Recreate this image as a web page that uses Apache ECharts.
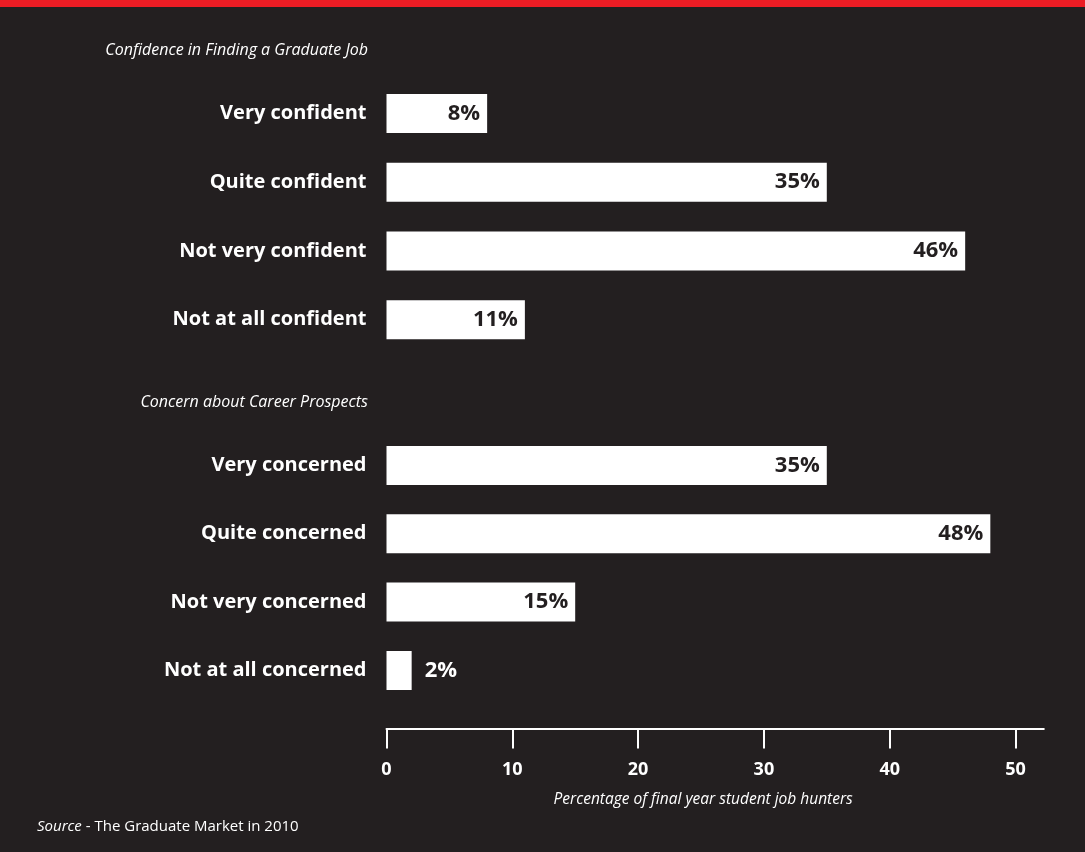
<!DOCTYPE html>
<html>
<head>
<meta charset="utf-8">
<title>Graduate job confidence</title>
<script src="https://cdn.jsdelivr.net/npm/echarts@6/dist/echarts.min.js"></script>
<style>
  html, body { margin: 0; padding: 0; background: #231f20; }
  #chart { width: 1085px; height: 852px; }
</style>
</head>
<body>
<div id="chart"></div>
<script>
// Survey answers (percentage of final year student job hunters)
const confidenceTitle = 'Confidence in Finding a Graduate Job';
const confidenceCategories = ['Very confident', 'Quite confident', 'Not very confident', 'Not at all confident'];
const confidenceValues = [8, 35, 46, 11];

const concernTitle = 'Concern about Career Prospects';
const concernCategories = ['Very concerned', 'Quite concerned', 'Not very concerned', 'Not at all concerned'];
const concernValues = [35, 48, 15, 2];

const xTicks = [0, 10, 20, 30, 40, 50];
const axisTitle = 'Percentage of final year student job hunters';

const BG = '#231f20';
const FONT = '"Open Sans", "Noto Sans", sans-serif';
const AX_MIN = 0, AX_MAX = 52.25;
const PLOT_LEFT = 386.5, PLOT_WIDTH = 657.3;

const chart = echarts.init(document.getElementById('chart'), null, { renderer: 'canvas' });

// Short bars get their value outside, in white
function barData(values) {
  return values.map(v => v < 5
    ? { value: v, label: { position: 'right', distance: 13, color: '#ffffff' } }
    : { value: v });
}

const barSeries = (idx, values) => ({
  type: 'bar',
  xAxisIndex: idx,
  yAxisIndex: idx,
  data: barData(values),
  barWidth: 39,
  itemStyle: { color: '#ffffff' },
  silent: true,
  label: {
    show: true,
    position: 'insideRight',
    distance: 7,
    formatter: '{c}%',
    color: BG,
    fontFamily: FONT,
    fontWeight: 'bold',
    fontSize: 22
  }
});

const catAxis = (idx, cats) => ({
  type: 'category',
  gridIndex: idx,
  data: cats,
  inverse: true,
  axisLine: { show: false },
  axisTick: { show: false },
  axisLabel: {
    color: '#ffffff',
    fontFamily: FONT,
    fontWeight: 'bold',
    fontSize: 20,
    margin: 20
  }
});

chart.setOption({
  backgroundColor: BG,
  animation: false,
  grid: [
    { left: PLOT_LEFT, width: PLOT_WIDTH, top: 79, height: 275 },
    { left: PLOT_LEFT, width: PLOT_WIDTH, top: 431.3, height: 273.3 }
  ],
  xAxis: [
    { type: 'value', gridIndex: 0, min: AX_MIN, max: AX_MAX, show: false },
    {
      type: 'value',
      gridIndex: 1,
      min: AX_MIN,
      max: AX_MAX,
      interval: 10,
      offset: 24,
      splitLine: { show: false },
      axisLine: { show: true, lineStyle: { color: '#ffffff', width: 2 } },
      axisTick: {
        show: true, length: 20,
        interval: (i, v) => xTicks.indexOf(Number(v)) >= 0,
        lineStyle: { color: '#ffffff', width: 2 }
      },
      axisLabel: {
        margin: 32,
        color: '#ffffff',
        fontFamily: FONT,
        fontWeight: 'bold',
        fontSize: 18,
        formatter: v => (xTicks.indexOf(v) >= 0 ? String(v) : ''),
        showMaxLabel: false
      },
      name: axisTitle,
      nameLocation: 'middle',
      nameGap: 63,
      nameTextStyle: {
        color: '#ffffff',
        fontFamily: FONT,
        fontStyle: 'italic',
        fontSize: 15.5,
        padding: [0, 24, 0, 0]
      }
    }
  ],
  yAxis: [catAxis(0, confidenceCategories), catAxis(1, concernCategories)],
  series: [barSeries(0, confidenceValues), barSeries(1, concernValues)],
  graphic: [
    {
      type: 'rect',
      left: 0, top: 0,
      shape: { width: 1085, height: 7 },
      style: { fill: '#ec1c24' },
      silent: true
    },
    {
      type: 'text',
      right: 1085 - 368,
      top: 42,
      style: {
        text: confidenceTitle,
        fill: '#ffffff',
        font: 'italic 16px ' + FONT,
        textAlign: 'right'
      }
    },
    {
      type: 'text',
      right: 1085 - 368,
      top: 394,
      style: {
        text: concernTitle,
        fill: '#ffffff',
        font: 'italic 16px ' + FONT,
        textAlign: 'right'
      }
    },
    {
      type: 'text',
      left: 37,
      top: 819,
      style: {
        text: '{i|Source} - The Graduate Market in 2010',
        fill: '#ffffff',
        font: '15px ' + FONT,
        rich: {
          i: { fontStyle: 'italic', fontSize: 15, fontFamily: FONT, fill: '#ffffff' }
        }
      }
    }
  ]
});
</script>
</body>
</html>
